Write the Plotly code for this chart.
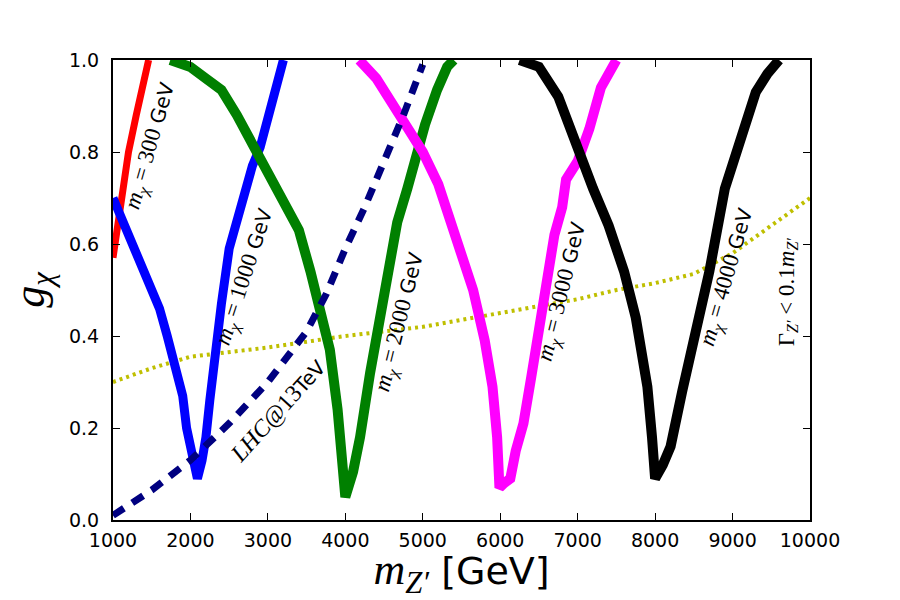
import plotly.graph_objects as go

# ---- data ----
red_x = [1000, 1050, 1100, 1200, 1300, 1400, 1460]
red_y = [0.57, 0.63, 0.69, 0.80, 0.88, 0.95, 1.0]

blue_x = [1000, 1100, 1200, 1300, 1400, 1500, 1600, 1700, 1800, 1900, 1950, 2000, 2050, 2090,
          2150, 2200, 2250, 2300, 2400, 2500, 2600, 2700, 2800, 2900, 3000, 3100, 3200]
blue_y = [0.70, 0.66, 0.62, 0.58, 0.54, 0.50, 0.46, 0.40, 0.34, 0.27, 0.20, 0.16, 0.12, 0.09,
          0.13, 0.18, 0.26, 0.34, 0.47, 0.59, 0.65, 0.72, 0.77, 0.81, 0.88, 0.95, 1.0]

green_x = [1740, 1900, 2000, 2200, 2400, 2600, 2800, 3000, 3200, 3400, 3550, 3700, 3800, 3900, 3950, 4000,
           4100, 4190, 4320, 4490, 4670, 4800, 4930, 5030, 5185, 5315, 5400]
green_y = [1.0, 0.99, 0.985, 0.96, 0.935, 0.88, 0.82, 0.76, 0.69, 0.63, 0.54, 0.45, 0.37, 0.24, 0.15, 0.05,
           0.105, 0.18, 0.32, 0.466, 0.647, 0.72, 0.805, 0.86, 0.935, 0.985, 1.0]

magenta_x = [4180, 4400, 4700, 5000, 5200, 5450, 5650, 5800, 5900, 5960, 5990,
             6050, 6130, 6200, 6300, 6400, 6500, 6600, 6700, 6800, 6850, 7000, 7150, 7300, 7500]
magenta_y = [1.0, 0.96, 0.88, 0.80, 0.73, 0.61, 0.50, 0.39, 0.29, 0.18, 0.07,
             0.08, 0.09, 0.15, 0.21, 0.31, 0.42, 0.53, 0.62, 0.68, 0.74, 0.78, 0.85, 0.94, 1.0]

black_x = [6250, 6500, 6750, 7000, 7200, 7400, 7600, 7750, 7900, 7960, 8000,
           8100, 8200, 8350, 8550, 8700, 8900, 9000, 9150, 9300, 9450, 9600]
black_y = [1.0, 0.985, 0.92, 0.80, 0.72, 0.64, 0.54, 0.44, 0.29, 0.18, 0.09,
           0.12, 0.16, 0.28, 0.42, 0.54, 0.72, 0.77, 0.86, 0.93, 0.97, 1.0]

lhc_x = [1000, 1500, 2000, 2500, 3000, 3500, 3750, 4000, 4250, 4500, 4750, 5000]
lhc_y = [0.01, 0.065, 0.13, 0.21, 0.30, 0.41, 0.49, 0.59, 0.68, 0.78, 0.88, 0.99]

width_x = [1000, 1500, 2000, 2500, 3000, 4000, 5000, 6000, 7000, 7500, 8000, 8500, 9000, 9500, 10000]
width_y = [0.30, 0.33, 0.355, 0.365, 0.375, 0.40, 0.42, 0.45, 0.48, 0.50, 0.515, 0.535, 0.58, 0.64, 0.70]

x_ticks = [1000, 2000, 3000, 4000, 5000, 6000, 7000, 8000, 9000, 10000]
y_ticks = [0.0, 0.2, 0.4, 0.6, 0.8, 1.0]

SERIF = "Liberation Serif"

fig = go.Figure()

def add_line(x, y, color, width, dash="solid"):
    fig.add_trace(go.Scatter(x=x, y=y, mode="lines",
                             line=dict(color=color, width=width, dash=dash),
                             showlegend=False, hoverinfo="skip"))

add_line(width_x, width_y, "#bfbf00", 4, "3px,4px")
add_line(red_x, red_y, "#ff0000", 7)
add_line(blue_x, blue_y, "#0000ff", 9)
add_line(green_x, green_y, "#008000", 10)
add_line(magenta_x, magenta_y, "#ff00ff", 10)
add_line(black_x, black_y, "#000000", 10)
add_line(lhc_x, lhc_y, "#000080", 7, "13px,10px")

def ser(s, size=23):
    return f'<span style="font-family:{SERIF};font-size:{size}px">{s}</span>'

def mlabel(mass):
    return ser(f'<i>m</i><sub><i>χ</i></sub> = {mass}') + ' GeV'

annots = [
    (1491, 0.812, mlabel(300), -74),
    (2705, 0.528, mlabel(1000), -72),
    (4708, 0.43, mlabel(2000), -76),
    (6814, 0.496, mlabel(3000), -76),
    (8933, 0.528, mlabel(4000), -74),
    (3119, 0.238, ser('<i>LHC</i>@13', 24) + 'TeV', -48),
    (9708, 0.496, ser('Γ<sub><i>Z′</i></sub> &lt; 0.1<i>m</i><sub><i>Z′</i></sub>', 23), -90),
]
for ax_, ay_, txt, ang in annots:
    fig.add_annotation(x=ax_, y=ay_, xref="x", yref="y", text=txt, textangle=ang,
                       showarrow=False, font=dict(size=20, color="black", family="DejaVu Sans"))

fig.update_layout(
    width=900, height=600,
    margin=dict(l=113, r=90, t=60, b=78),
    paper_bgcolor="white", plot_bgcolor="white",
    font=dict(family="DejaVu Sans", size=19, color="black"),
    xaxis=dict(range=[1000, 10000], tickvals=x_ticks, ticktext=[str(v) for v in x_ticks],
               ticks="inside", ticklen=7, tickwidth=1, tickcolor="black",
               showline=True, linewidth=2, linecolor="black", mirror="ticks",
               showgrid=False, zeroline=False, ticklabelstandoff=2,
               title=dict(text=ser('<i>m</i><sub><i>Z′</i></sub>', 44) + ' [GeV]',
                          font=dict(size=38), standoff=11)),
    yaxis=dict(range=[0, 1.0], tickvals=y_ticks, ticktext=[f"{v:.1f}" for v in y_ticks],
               ticks="inside", ticklen=7, tickwidth=1, tickcolor="black",
               showline=True, linewidth=2, linecolor="black", mirror="ticks",
               showgrid=False, zeroline=False, ticklabelstandoff=8,
               title=dict(text=ser('<i>g</i><sub><i>χ</i></sub>', 44),
                          font=dict(size=40), standoff=12)),
)

fig.write_html("out.html")
